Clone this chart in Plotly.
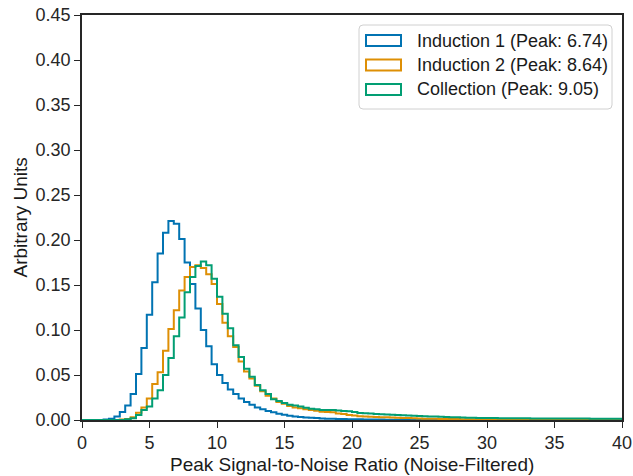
import plotly.graph_objects as go

# ---- data (bin width 0.4 from 0 to 40, 100 bins) ----
BIN_START = 0.0
BIN_WIDTH = 0.4
N_BINS = 100

series_names = ["Induction 1 (Peak: 6.74)", "Induction 2 (Peak: 8.64)", "Collection (Peak: 9.05)"]
series_colors = ["#0173B2", "#DE8F05", "#029E73"]

induction1 = [
    0, 0, 0, 0, 0.0005, 0.0015, 0.004, 0.009, 0.016, 0.029,
    0.051, 0.080, 0.117, 0.153, 0.185, 0.208, 0.221, 0.218, 0.201, 0.175,
    0.151, 0.124, 0.100, 0.082, 0.062, 0.050, 0.041, 0.034, 0.029, 0.024,
    0.020, 0.017, 0.014, 0.012, 0.010, 0.0085, 0.007, 0.0058, 0.0048, 0.004,
    0.0034, 0.0029, 0.0025, 0.0021, 0.0018, 0.0015, 0.0013, 0.0011, 0.0010, 0.0009,
    0.0008, 0.0007, 0.0006, 0.0006, 0.0005, 0.0005, 0.0004, 0.0004, 0.0003, 0.0003,
    0.0003, 0.0002, 0.0002, 0.0002, 0.0002, 0.0002, 0.0001, 0.0001, 0.0001, 0.0001,
    0.0001, 0.0001, 0.0001, 0.0001, 0.0001, 0.0001, 0, 0, 0, 0,
    0, 0, 0, 0, 0, 0, 0, 0, 0, 0,
    0, 0, 0, 0, 0, 0, 0, 0, 0, 0,
]

induction2 = [
    0, 0, 0, 0, 0, 0, 0, 0.0005, 0.001, 0.003,
    0.008, 0.014, 0.024, 0.040, 0.053, 0.077, 0.101, 0.122, 0.144, 0.159,
    0.170, 0.172, 0.169, 0.162, 0.151, 0.129, 0.108, 0.093, 0.081, 0.065,
    0.054, 0.046, 0.038, 0.032, 0.027, 0.024, 0.020, 0.018, 0.0156, 0.014,
    0.013, 0.012, 0.011, 0.0104, 0.0093, 0.0088, 0.0085, 0.0072, 0.0067, 0.0055,
    0.0050, 0.0042, 0.0038, 0.0036, 0.0032, 0.0030, 0.0030, 0.0028, 0.0024, 0.0022,
    0.0022, 0.0020, 0.0017, 0.0015, 0.0015, 0.0014, 0.0012, 0.0011, 0.0010, 0.0010,
    0.0009, 0.0008, 0.0008, 0.0007, 0.0006, 0.0006, 0.0005, 0.0005, 0.0004, 0.0004,
    0.0004, 0.0003, 0.0003, 0.0003, 0.0003, 0.0002, 0.0002, 0.0002, 0.0002, 0.0002,
    0.0002, 0.0001, 0.0001, 0.0001, 0.0001, 0.0001, 0.0001, 0.0001, 0.0001, 0.0001,
]

collection = [
    0, 0, 0, 0, 0, 0, 0, 0, 0.0008, 0.002,
    0.0055, 0.011, 0.015, 0.024, 0.033, 0.050, 0.069, 0.093, 0.114, 0.142,
    0.159, 0.171, 0.176, 0.172, 0.157, 0.137, 0.118, 0.102, 0.083, 0.070,
    0.057, 0.048, 0.039, 0.033, 0.029, 0.023, 0.021, 0.019, 0.017, 0.016,
    0.015, 0.0137, 0.0126, 0.012, 0.011, 0.011, 0.011, 0.0105, 0.0100, 0.0097,
    0.0090, 0.0078, 0.0074, 0.0072, 0.0068, 0.0063, 0.0060, 0.0058, 0.0055, 0.0052,
    0.0050, 0.0048, 0.0045, 0.0043, 0.0040, 0.0040, 0.0035, 0.0033, 0.0030, 0.0030,
    0.0028, 0.0025, 0.0024, 0.0022, 0.0022, 0.0021, 0.0021, 0.0020, 0.0020, 0.0020,
    0.0019, 0.0019, 0.0019, 0.0018, 0.0018, 0.0018, 0.0017, 0.0017, 0.0017, 0.0017,
    0.0016, 0.0016, 0.0016, 0.0016, 0.0015, 0.0015, 0.0015, 0.0015, 0.0015, 0.0015,
]

x_ticks = [0, 5, 10, 15, 20, 25, 30, 35, 40]
y_ticks = [0.00, 0.05, 0.10, 0.15, 0.20, 0.25, 0.30, 0.35, 0.40, 0.45]

x_title = "Peak Signal-to-Noise Ratio (Noise-Filtered)"
y_title = "Arbitrary Units"

# ---- figure geometry (body margin removed by post_script, figure at page origin) ----
W, H = 633, 476
ML, MT = 82, 15
MR = W - 622
MB = H - 420
PW, PH = W - ML - MR, H - MT - MB

edges = [BIN_START + BIN_WIDTH * i for i in range(N_BINS + 1)]

fig = go.Figure()
for name, color, vals in zip(series_names, series_colors, [induction1, induction2, collection]):
    fig.add_trace(go.Scatter(
        x=edges, y=list(vals) + [0],
        mode="lines", line=dict(color=color, width=2, shape="hv"),
        name=name, showlegend=False, hoverinfo="skip",
    ))

FONT = "Liberation Sans, Arial, Helvetica, sans-serif"
AX = "#262626"
TICK_SIZE = 18
TITLE_SIZE = 19
LEGEND_SIZE = 18

fig.update_layout(
    width=W, height=H,
    margin=dict(l=ML, r=MR, t=MT, b=MB, autoexpand=False),
    paper_bgcolor="white", plot_bgcolor="white",
    font=dict(family=FONT, size=TICK_SIZE, color=AX),
    showlegend=False,
    xaxis=dict(
        range=[0, 40], tickvals=x_ticks, ticktext=[str(v) for v in x_ticks],
        showline=True, linecolor=AX, linewidth=1.6, mirror=True,
        ticks="outside", ticklen=6, tickwidth=1.4, tickcolor=AX,
        showgrid=False, zeroline=False, automargin=False,
        ticklabeloverflow="allow",
        tickfont=dict(size=TICK_SIZE),
    ),
    yaxis=dict(
        range=[0, 0.45], tickvals=y_ticks, ticktext=[f"{v:.2f}" for v in y_ticks],
        showline=True, linecolor=AX, linewidth=1.6, mirror=True,
        ticks="outside", ticklen=6, tickwidth=1.4, tickcolor=AX,
        showgrid=False, zeroline=False, automargin=False,
        ticklabeloverflow="allow",
        tickfont=dict(size=TICK_SIZE),
    ),
)

def px_to_paper(px, py):
    """page pixel -> paper coordinates"""
    return (px - ML) / PW, (H - MB - py) / PH

# axis titles
tx, ty = px_to_paper((82 + 622) / 2, 464)
fig.add_annotation(x=tx, y=ty, xref="paper", yref="paper", text=x_title, showarrow=False,
                   xanchor="center", yanchor="middle", font=dict(size=TITLE_SIZE, color="#1a1a1a"))
tx, ty = px_to_paper(20, (15 + 420) / 2)
fig.add_annotation(x=tx, y=ty, xref="paper", yref="paper", text=y_title, showarrow=False,
                   textangle=-90, xanchor="center", yanchor="middle", font=dict(size=TITLE_SIZE, color="#1a1a1a"))

# ---- custom legend (outlined patches like the original) ----
lx0, ly0 = px_to_paper(359, 25)
lx1, ly1 = px_to_paper(612, 109)
rx, ry = 4 / PW, 4 / PH
path = (f"M{lx0+rx},{ly0} L{lx1-rx},{ly0} Q{lx1},{ly0} {lx1},{ly0-ry} "
        f"L{lx1},{ly1+ry} Q{lx1},{ly1} {lx1-rx},{ly1} "
        f"L{lx0+rx},{ly1} Q{lx0},{ly1} {lx0},{ly1+ry} "
        f"L{lx0},{ly0-ry} Q{lx0},{ly0} {lx0+rx},{ly0} Z")
fig.add_shape(type="path", path=path, xref="paper", yref="paper",
              line=dict(color="#d0d0d0", width=1), fillcolor="rgba(255,255,255,0.85)", layer="above")

row_y = [40.5, 65, 89.5]
for name, color, ry_px in zip(series_names, series_colors, row_y):
    ix0, iy0 = px_to_paper(366, ry_px - 5.5)
    ix1, iy1 = px_to_paper(401, ry_px + 5.5)
    fig.add_shape(type="rect", xref="paper", yref="paper", x0=ix0, x1=ix1, y0=iy1, y1=iy0,
                  line=dict(color=color, width=2), fillcolor="rgba(0,0,0,0)", layer="above")
    tx, ty = px_to_paper(415, ry_px)
    fig.add_annotation(x=tx, y=ty, xref="paper", yref="paper", text=name, showarrow=False,
                       xanchor="left", yanchor="middle", font=dict(size=LEGEND_SIZE, color="#1a1a1a"))

fig.write_html(
    "out.html",
    config={"displayModeBar": False},
    post_script="document.body.style.margin='0';document.body.style.overflow='hidden';",
)
